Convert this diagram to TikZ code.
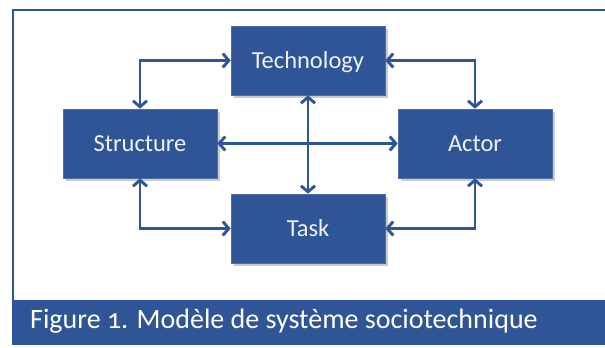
\documentclass[tikz,border=0pt]{standalone}
\usepackage{fontspec}
\setmainfont{Carlito}[Numbers=OldStyle]
\usetikzlibrary{arrows.meta,shadows}
\definecolor{boxblue}{RGB}{47,85,151}
\begin{document}
\begin{tikzpicture}[x=1pt,y=-1pt,
  block/.style={fill=boxblue, draw=boxblue!85!white, line width=0.6pt,
    minimum width=154pt, minimum height=69pt, inner sep=0pt,
    text=white!92!boxblue, font=\fontsize{24.5}{29}\selectfont,
    text height=15.5pt, text depth=0pt,
    drop shadow={shadow xshift=2.5pt, shadow yshift=-2.5pt, fill=black!45, opacity=0.45}},
  link/.style={draw=boxblue, line width=2.9pt,
    {Straight Barb[length=6pt,width=14pt]}-{Straight Barb[length=6pt,width=14pt]}}]
  \useasboundingbox (0,0) rectangle (605,348);

  % outer frame and caption band
  \draw[boxblue, line width=2pt] (13,300) -- (13,10) -- (606,10);
  \fill[boxblue] (12,300) rectangle (606,345);
  \node[anchor=base west, inner sep=0pt, text=white,
        font=\fontsize{28}{32}\selectfont] (caption) at (30,328)
        {Figure 1. Modèle de système sociotechnique};

  % the four elements of the system
  \node[block] (tech)   at (308,60.5)  {Technology};
  \node[block] (struct) at (140,143.5) {Structure};
  \node[block] (actor)  at (475,143.5) {Actor};
  \node[block] (task)   at (308,228.5) {Task};

  % mutual relations
  \draw[link] (struct.north) |- (tech.west);
  \draw[link] (tech.east) -| (actor.north);
  \draw[link] (struct.south) |- (task.west);
  \draw[link] (task.east) -| (actor.south);
  \draw[link] (struct.east) -- (actor.west);
  \draw[link] (tech.south) -- (task.north);
\end{tikzpicture}
\end{document}
